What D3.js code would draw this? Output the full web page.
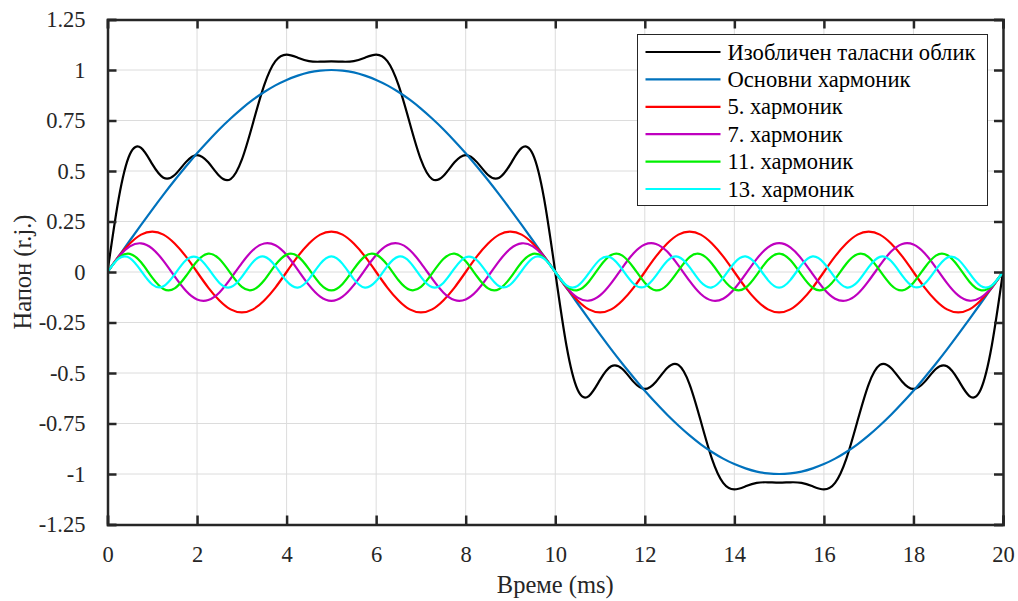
<!DOCTYPE html>
<html>
<head>
<meta charset="utf-8">
<script src="https://cdn.jsdelivr.net/npm/d3@7/dist/d3.min.js"></script>
<style>
  html, body { margin: 0; padding: 0; background: #fff; }
  svg { display: block; }
</style>
</head>
<body>
<svg id="chart" width="1018" height="601"></svg>
<script>
// sample times (ms)
const time = [
  0, 0.25, 0.5, 0.75, 1, 1.25, 1.5, 1.75, 2, 2.25, 2.5, 2.75, 3, 3.25, 3.5, 3.75, 4, 4.25, 4.5, 4.75,
  5, 5.25, 5.5, 5.75, 6, 6.25, 6.5, 6.75, 7, 7.25, 7.5, 7.75, 8, 8.25, 8.5, 8.75, 9, 9.25, 9.5, 9.75,
  10, 10.25, 10.5, 10.75, 11, 11.25, 11.5, 11.75, 12, 12.25, 12.5, 12.75, 13, 13.25, 13.5, 13.75, 14, 14.25, 14.5, 14.75,
  15, 15.25, 15.5, 15.75, 16, 16.25, 16.5, 16.75, 17, 17.25, 17.5, 17.75, 18, 18.25, 18.5, 18.75, 19, 19.25, 19.5, 19.75,
  20
];

const distorted = [
  0, 0.364, 0.583, 0.614, 0.534, 0.467, 0.480, 0.544, 0.579, 0.543, 0.475, 0.460, 0.556, 0.738, 0.925, 1.044, 1.076, 1.061, 1.044, 1.041,
  1.043, 1.041, 1.044, 1.061, 1.076, 1.044, 0.925, 0.738, 0.556, 0.460, 0.475, 0.543, 0.579, 0.544, 0.480, 0.467, 0.534, 0.614, 0.583, 0.364,
  0, -0.364, -0.583, -0.614, -0.534, -0.467, -0.480, -0.544, -0.579, -0.543, -0.475, -0.460, -0.556, -0.738, -0.925, -1.044, -1.076, -1.061, -1.044, -1.041,
  -1.043, -1.041, -1.044, -1.061, -1.076, -1.044, -0.925, -0.738, -0.556, -0.460, -0.475, -0.543, -0.579, -0.544, -0.480, -0.467, -0.534, -0.614, -0.583, -0.364,
  0
];

const fundamental = [
  0, 0.078, 0.156, 0.233, 0.309, 0.383, 0.454, 0.522, 0.588, 0.649, 0.707, 0.760, 0.809, 0.853, 0.891, 0.924, 0.951, 0.972, 0.988, 0.997,
  1, 0.997, 0.988, 0.972, 0.951, 0.924, 0.891, 0.853, 0.809, 0.760, 0.707, 0.649, 0.588, 0.522, 0.454, 0.383, 0.309, 0.233, 0.156, 0.078,
  0, -0.078, -0.156, -0.233, -0.309, -0.383, -0.454, -0.522, -0.588, -0.649, -0.707, -0.760, -0.809, -0.853, -0.891, -0.924, -0.951, -0.972, -0.988, -0.997,
  -1, -0.997, -0.988, -0.972, -0.951, -0.924, -0.891, -0.853, -0.809, -0.760, -0.707, -0.649, -0.588, -0.522, -0.454, -0.383, -0.309, -0.233, -0.156, -0.078,
  0
];

const harm5 = [
  0, 0.077, 0.141, 0.185, 0.2, 0.185, 0.141, 0.077, 0, -0.077, -0.141, -0.185, -0.2, -0.185, -0.141, -0.077,
  0, 0.077, 0.141, 0.185, 0.2, 0.185, 0.141, 0.077, 0, -0.077, -0.141, -0.185, -0.2, -0.185, -0.141, -0.077,
  0, 0.077, 0.141, 0.185, 0.2, 0.185, 0.141, 0.077, 0, -0.077, -0.141, -0.185, -0.2, -0.185, -0.141, -0.077,
  0, 0.077, 0.141, 0.185, 0.2, 0.185, 0.141, 0.077, 0, -0.077, -0.141, -0.185, -0.2, -0.185, -0.141, -0.077,
  0, 0.077, 0.141, 0.185, 0.2, 0.185, 0.141, 0.077, 0, -0.077, -0.141, -0.185, -0.2, -0.185, -0.141, -0.077,
  0
];

const harm7 = [
  0, 0.075, 0.127, 0.142, 0.116, 0.055, -0.022, -0.093, -0.136, -0.139, -0.101, -0.033, 0.044, 0.109, 0.141, 0.132, 0.084, 0.011, -0.065, -0.122,
  -0.143, -0.122, -0.065, 0.011, 0.084, 0.132, 0.141, 0.109, 0.044, -0.033, -0.101, -0.139, -0.136, -0.093, -0.022, 0.055, 0.116, 0.142, 0.127, 0.075,
  0, -0.075, -0.127, -0.142, -0.116, -0.055, 0.022, 0.093, 0.136, 0.139, 0.101, 0.033, -0.044, -0.109, -0.141, -0.132, -0.084, -0.011, 0.065, 0.122,
  0.143, 0.122, 0.065, -0.011, -0.084, -0.132, -0.141, -0.109, -0.044, 0.033, 0.101, 0.139, 0.136, 0.093, 0.022, -0.055, -0.116, -0.142, -0.127, -0.075,
  0
];

const harm11 = [
  0, 0.069, 0.090, 0.048, -0.028, -0.084, -0.081, -0.021, 0.053, 0.091, 0.064, -0.007, -0.074, -0.088, -0.041, 0.035, 0.086, 0.078, 0.014, -0.059,
  -0.091, -0.059, 0.014, 0.078, 0.086, 0.035, -0.041, -0.088, -0.074, -0.007, 0.064, 0.091, 0.053, -0.021, -0.081, -0.084, -0.028, 0.048, 0.090, 0.069,
  0, -0.069, -0.090, -0.048, 0.028, 0.084, 0.081, 0.021, -0.053, -0.091, -0.064, 0.007, 0.074, 0.088, 0.041, -0.035, -0.086, -0.078, -0.014, 0.059,
  0.091, 0.059, -0.014, -0.078, -0.086, -0.035, 0.041, 0.088, 0.074, 0.007, -0.064, -0.091, -0.053, 0.021, 0.081, 0.084, 0.028, -0.048, -0.090, -0.069,
  0
];

const harm13 = [
  0, 0.066, 0.069, 0.006, -0.062, -0.071, -0.012, 0.058, 0.073, 0.018, -0.054, -0.075, -0.024, 0.050, 0.076, 0.029, -0.045, -0.077, -0.035, 0.040,
  0.077, 0.040, -0.035, -0.077, -0.045, 0.029, 0.076, 0.050, -0.024, -0.075, -0.054, 0.018, 0.073, 0.058, -0.012, -0.071, -0.062, 0.006, 0.069, 0.066,
  0, -0.066, -0.069, -0.006, 0.062, 0.071, 0.012, -0.058, -0.073, -0.018, 0.054, 0.075, 0.024, -0.050, -0.076, -0.029, 0.045, 0.077, 0.035, -0.040,
  -0.077, -0.040, 0.035, 0.077, 0.045, -0.029, -0.076, -0.050, 0.024, 0.075, 0.054, -0.018, -0.073, -0.058, 0.012, 0.071, 0.062, -0.006, -0.069, -0.066,
  0
];

const seriesNames = ["Изобличен таласни облик", "Основни хармоник", "5. хармоник", "7. хармоник", "11. хармоник", "13. хармоник"];
const seriesValues = [distorted, fundamental, harm5, harm7, harm11, harm13];
const seriesColors = ["#000000", "#0072BD", "#FF0000", "#BF00BF", "#00F000", "#00FFFF"];

const xTicks = [0, 2, 4, 6, 8, 10, 12, 14, 16, 18, 20];
const yTicks = [-1.25, -1, -0.75, -0.5, -0.25, 0, 0.25, 0.5, 0.75, 1, 1.25];

const xLabel = "Време (ms)";
const yLabel = "Напон (r.j.)";

const FONT = '"Liberation Serif"';

const svg = d3.select("#chart");
const margin = { top: 19.5, right: 15, bottom: 76.5, left: 107.5 };
const width = 1018 - margin.left - margin.right;
const height = 601 - margin.top - margin.bottom;
const axisColor = "#262626";

const x = d3.scaleLinear().domain([0, 20]).range([0, width]);
const y = d3.scaleLinear().domain([-1.25, 1.25]).range([height, 0]);

const g = svg.append("g").attr("transform", `translate(${margin.left},${margin.top})`);

// grid
g.append("g")
  .selectAll("line")
  .data(xTicks)
  .join("line")
  .attr("x1", d => x(d)).attr("x2", d => x(d))
  .attr("y1", 0).attr("y2", height)
  .attr("stroke", "#dcdcdc").attr("stroke-width", 1);

g.append("g")
  .selectAll("line")
  .data(yTicks)
  .join("line")
  .attr("x1", 0).attr("x2", width)
  .attr("y1", d => y(d)).attr("y2", d => y(d))
  .attr("stroke", "#dcdcdc").attr("stroke-width", 1);

// curves
const line = d3.line()
  .x((d, i) => x(time[i]))
  .y(d => y(d))
  .curve(d3.curveNatural);

svg.append("clipPath").attr("id", "plotClip")
  .append("rect").attr("x", 0).attr("y", 0).attr("width", width).attr("height", height);

const lines = g.append("g").attr("clip-path", "url(#plotClip)");
seriesValues.forEach((vals, i) => {
  lines.append("path")
    .datum(vals)
    .attr("fill", "none")
    .attr("stroke", seriesColors[i])
    .attr("stroke-width", 2.2)
    .attr("stroke-linejoin", "round")
    .attr("d", line);
});

// axes (box with inward ticks)
const tickLen = 9;
const fmtY = d => d === 0 ? "0" : String(d);

const xAxisBottom = d3.axisBottom(x).tickValues(xTicks).tickSize(-tickLen).tickPadding(tickLen + 13).tickFormat(d3.format("d"));
const xAxisTop = d3.axisTop(x).tickValues(xTicks).tickSize(-tickLen).tickFormat("");
const yAxisLeft = d3.axisLeft(y).tickValues(yTicks).tickSize(-tickLen).tickPadding(tickLen + 13).tickFormat(fmtY);
const yAxisRight = d3.axisRight(y).tickValues(yTicks).tickSize(-tickLen).tickFormat("");

function styleAxis(sel) {
  sel.attr("font-family", null).attr("font-size", null);
  sel.select(".domain").attr("stroke", axisColor).attr("stroke-width", 2.5);
  sel.selectAll(".tick line").attr("stroke", axisColor).attr("stroke-width", 2.5);
  sel.selectAll(".tick text")
    .attr("fill", axisColor)
    .style("font-family", FONT)
    .style("font-size", "22.5px");
}

g.append("g").attr("transform", `translate(0,${height})`).call(xAxisBottom).call(styleAxis);
g.append("g").call(xAxisTop).call(styleAxis);
g.append("g").call(yAxisLeft).call(styleAxis);
g.append("g").attr("transform", `translate(${width},0)`).call(yAxisRight).call(styleAxis);

// axis labels
svg.append("text")
  .attr("x", margin.left + width / 2)
  .attr("y", 593)
  .attr("text-anchor", "middle")
  .attr("fill", axisColor)
  .style("font-family", FONT)
  .style("font-size", "24.5px")
  .text(xLabel);

svg.append("text")
  .attr("transform", `translate(31,${margin.top + height / 2}) rotate(-90)`)
  .attr("text-anchor", "middle")
  .attr("fill", axisColor)
  .style("font-family", FONT)
  .style("font-size", "24.5px")
  .text(yLabel);

// legend
const legend = svg.append("g").attr("transform", "translate(637.5,34.5)");
legend.append("rect")
  .attr("width", 350).attr("height", 171)
  .attr("fill", "#fff")
  .attr("stroke", axisColor).attr("stroke-width", 1);

seriesNames.forEach((name, i) => {
  const ly = 17.5 + i * 27.4;
  legend.append("line")
    .attr("x1", 8).attr("x2", 83)
    .attr("y1", ly).attr("y2", ly)
    .attr("stroke", seriesColors[i]).attr("stroke-width", 2.2);
  legend.append("text")
    .attr("x", 90).attr("y", ly + 7.5)
    .attr("fill", "#000")
    .style("font-family", FONT)
    .style("font-size", "22.6px")
    .text(name);
});
</script>
</body>
</html>
